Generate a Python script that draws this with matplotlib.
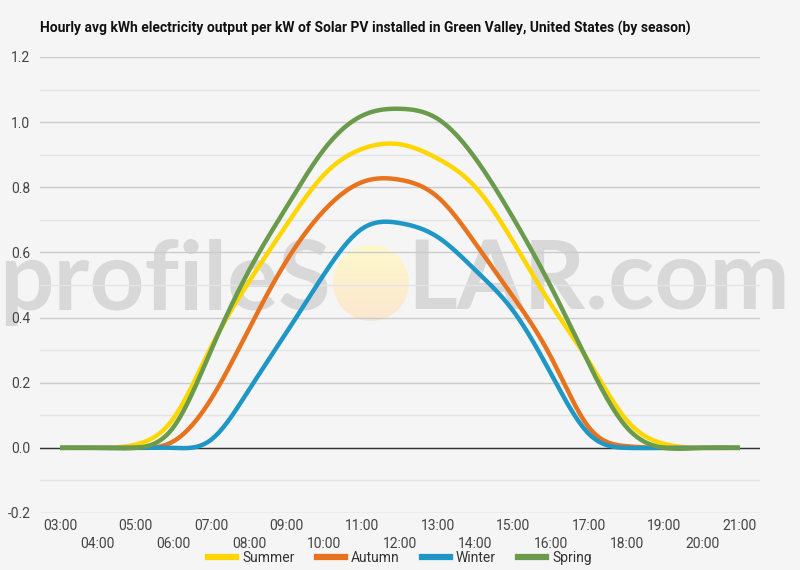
import numpy as np
import matplotlib
matplotlib.use("Agg")
import matplotlib.pyplot as plt
from matplotlib.lines import Line2D
from matplotlib.patches import Circle

# ---------------- data ----------------
hours = list(range(3, 22))
hour_labels = [f"{h:02d}:00" for h in hours]
summer = [0, 0, 0.01, 0.09, 0.31, 0.51, 0.685, 0.84, 0.918, 0.932, 0.888, 0.80, 0.632, 0.44, 0.265, 0.085, 0.012, 0, 0]
autumn = [0, 0, 0, 0.02, 0.15, 0.365, 0.575, 0.73, 0.816, 0.823, 0.77, 0.627, 0.463, 0.278, 0.063, 0.005, 0, 0, 0]
winter = [0, 0, 0, 0, 0.025, 0.178, 0.355, 0.535, 0.673, 0.69, 0.647, 0.545, 0.42, 0.227, 0.043, 0, 0, 0, 0]
spring = [0, 0, 0, 0.063, 0.30, 0.544, 0.74, 0.918, 1.02, 1.041, 1.01, 0.888, 0.705, 0.494, 0.258, 0.063, 0, 0, 0]
series_names = ["Summer", "Autumn", "Winter", "Spring"]
series_values = [summer, autumn, winter, spring]
series_colors = ["#FFD600", "#E8731E", "#1E96C6", "#6A9A4C"]
title = "Hourly avg kWh electricity output per kW of Solar PV installed in Green Valley, United States (by season)"
y_ticks = [-0.2, 0.0, 0.2, 0.4, 0.6, 0.8, 1.0, 1.2]


def smooth(x, y, n=30):
    """Natural cubic spline through the points (drawing only)."""
    x = np.asarray(x, float)
    y = np.asarray(y, float)
    N = len(x)
    h = np.diff(x)
    A = np.zeros((N, N))
    rhs = np.zeros(N)
    A[0, 0] = 1.0
    A[-1, -1] = 1.0
    for i in range(1, N - 1):
        A[i, i - 1] = h[i - 1]
        A[i, i] = 2 * (h[i - 1] + h[i])
        A[i, i + 1] = h[i]
        rhs[i] = 6 * ((y[i + 1] - y[i]) / h[i] - (y[i] - y[i - 1]) / h[i - 1])
    M = np.linalg.solve(A, rhs)
    xs, ys = [], []
    for i in range(N - 1):
        t = np.linspace(x[i], x[i + 1], n, endpoint=False)
        a = x[i + 1] - t
        b = t - x[i]
        s = (M[i] * a ** 3 + M[i + 1] * b ** 3) / (6 * h[i]) \
            + (y[i] / h[i] - M[i] * h[i] / 6) * a + (y[i + 1] / h[i] - M[i + 1] * h[i] / 6) * b
        xs.append(t)
        ys.append(s)
    xs.append(x[-1:])
    ys.append(y[-1:])
    return np.concatenate(xs), np.concatenate(ys)


plt.rcParams["font.family"] = ["Roboto", "DejaVu Sans"]
BG = "#f5f5f5"
fig = plt.figure(figsize=(8, 5.7), dpi=100, facecolor=BG)

# background layer for the watermark (pixel coords)
bg = fig.add_axes([0, 0, 1, 1], zorder=0)
bg.set_xlim(0, 800)
bg.set_ylim(570, 0)
bg.axis("off")
grad = np.linspace(0, 1, 256).reshape(-1, 1)
top = np.array([1.0, 0.975, 0.78])
bot = np.array([0.985, 0.90, 0.80])
img = top[None, None, :] * (1 - grad[:, :, None]) + bot[None, None, :] * grad[:, :, None]
cx, cy, r = 371, 283, 38
im = bg.imshow(img, extent=(cx - r, cx + r, cy + r, cy - r), aspect="auto", zorder=1, alpha=0.9)
circ = Circle((cx, cy), r, transform=bg.transData, facecolor="none", edgecolor="none")
bg.add_patch(circ)
im.set_clip_path(circ)
wm_kw = dict(fontsize=69, fontweight="bold", color="#d3d3d3", alpha=0.85,
             family=["Lato", "DejaVu Sans"], va="baseline", zorder=2)
bg.text(331, 310, "profileS", ha="right", **wm_kw)
bg.text(407, 310, "LAR.com", ha="left", **wm_kw)

ax = fig.add_axes([0.05, 0.10, 0.90, 0.80], zorder=1)
ax.patch.set_alpha(0)

ax.set_xlim(hours[0] - 0.53, hours[-1] + 0.53)
ax.set_ylim(-0.2, 1.2)

for name, vals, col in zip(series_names, series_values, series_colors):
    sx, sy = smooth(hours, vals)
    ax.plot(sx, sy, color=col, lw=3.2, solid_capstyle="butt", zorder=3, label=name)

ax.set_yticks(y_ticks)
ax.set_yticklabels([f"{v:.1f}" for v in y_ticks])
ax.set_yticks(np.arange(-0.1, 1.2, 0.2), minor=True)
ax.grid(axis="y", which="major", color="#cccccc", lw=1.0, zorder=0)
ax.grid(axis="y", which="minor", color="#e4e4e4", lw=1.0, zorder=0)
ax.axhline(0, color="#333333", lw=1.0, zorder=2)
for s in ax.spines.values():
    s.set_visible(False)

ax.set_xticks(hours[0::2])
ax.set_xticklabels(hour_labels[0::2])
ax.set_xticks(hours[1::2], minor=True)
ax.set_xticklabels(hour_labels[1::2], minor=True)
ax.tick_params(axis="x", which="major", length=0, pad=4, labelsize=10, labelcolor="#444444")
ax.tick_params(axis="x", which="minor", length=0, pad=17, labelsize=10, labelcolor="#444444")
ax.tick_params(axis="y", which="both", length=0, pad=7, labelsize=10, labelcolor="#444444")

fig.text(0.05, 1 - 28 / 570, title, ha="left", va="center", fontsize=10,
         fontweight="bold", color="#111111")

handles = [Line2D([0], [0], color=c, lw=4.5) for c in series_colors]
fig.legend(handles, series_names, loc="center", bbox_to_anchor=(0.5, 1 - 558 / 570),
           ncol=4, frameon=False, fontsize=10, handlelength=2.0, handletextpad=0.45,
           columnspacing=1.6, labelcolor="#333333")

fig.savefig("out.png", dpi=100, facecolor=BG)
